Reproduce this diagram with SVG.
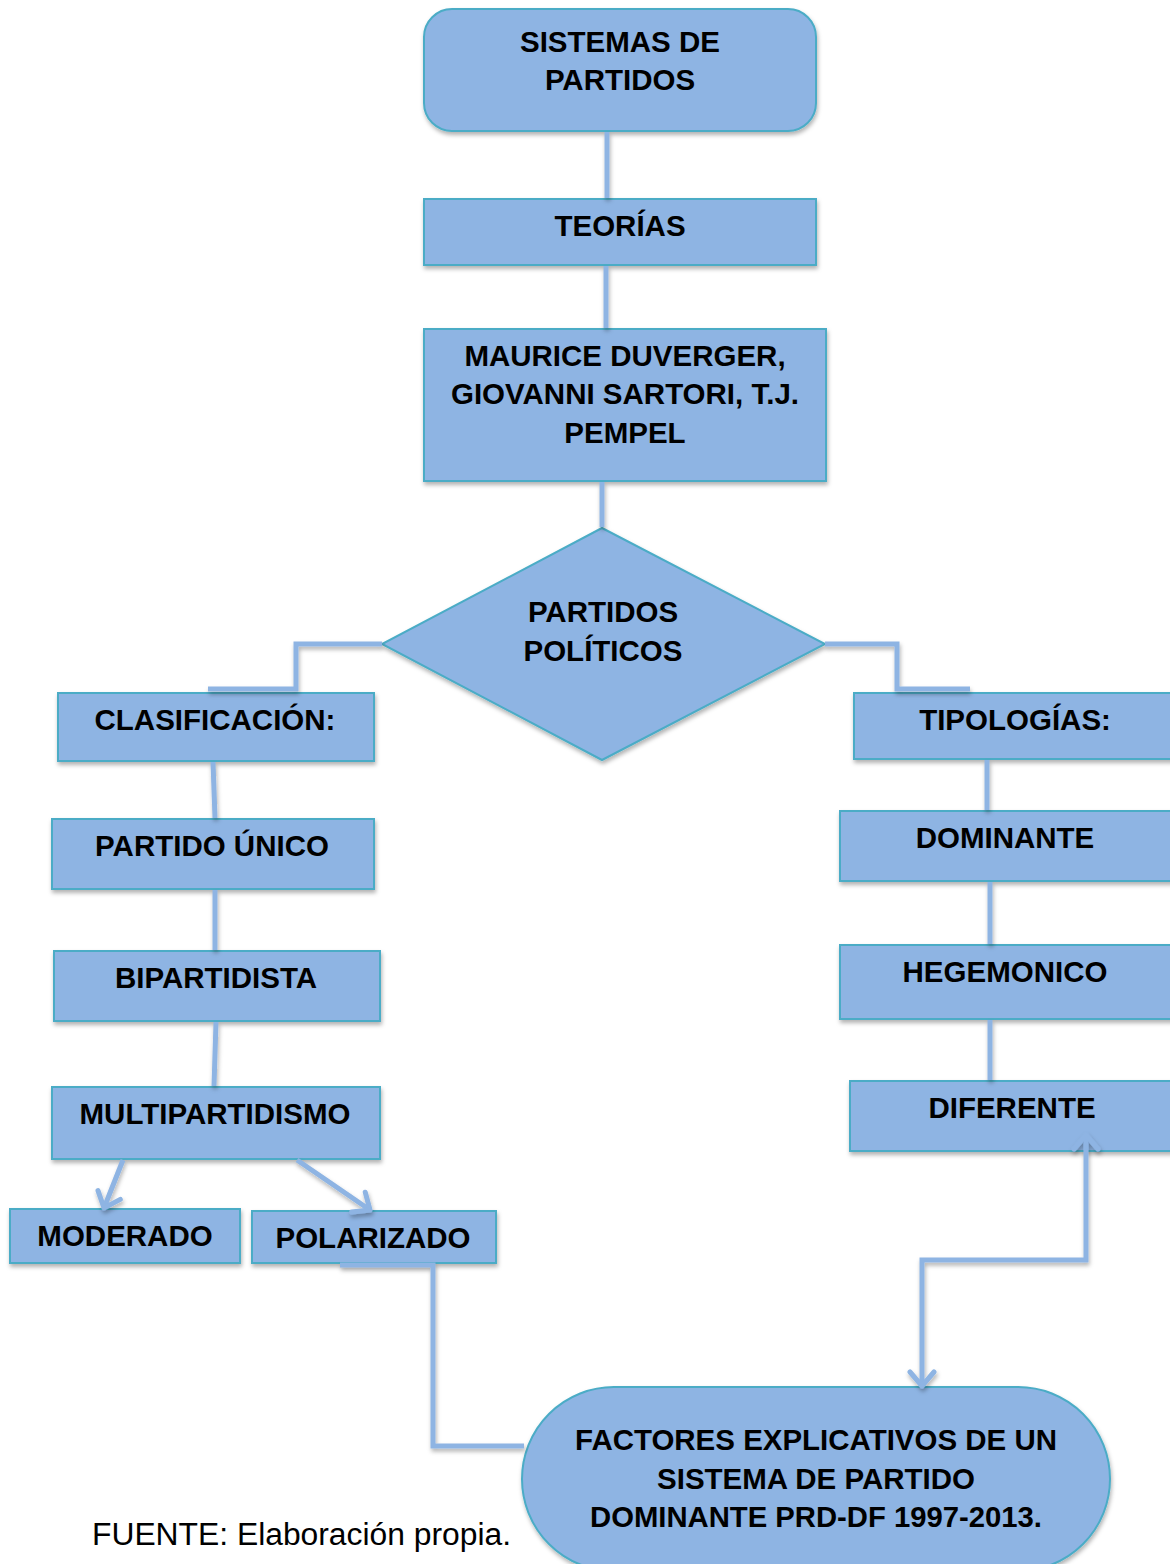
<svg xmlns="http://www.w3.org/2000/svg" width="1170" height="1564" viewBox="0 0 1170 1564">
<style>
.n{fill:#8EB4E3;stroke:#4BACC6;stroke-width:2;filter:url(#sh)}
.t{font-family:"Liberation Sans",Arial,sans-serif;font-weight:bold;font-size:29.5px;fill:#000;text-anchor:middle}
.c{fill:none;stroke:#8EB4E3;stroke-width:5;filter:url(#sh)}
.a{marker-end:url(#ah)}
</style>
<defs>
<filter id="sh" filterUnits="userSpaceOnUse" x="0" y="0" width="1170" height="1564">
<feDropShadow dx="1" dy="3" stdDeviation="2" flood-color="#000" flood-opacity="0.3"/>
</filter>
<marker id="ah" viewBox="-3 -15 20 30" refX="14" refY="0" markerWidth="20" markerHeight="30" orient="auto-start-reverse" markerUnits="userSpaceOnUse">
<polyline points="0,-12 14,0 0,12" fill="none" stroke="#8EB4E3" stroke-width="5" stroke-linecap="round" stroke-linejoin="round"/>
</marker>
</defs>
<rect width="1170" height="1564" fill="#fff"/>
<g id="n-sistemas"><rect class="n" x="424" y="9" width="392" height="122" rx="28"/><text class="t" x="620" y="52">SISTEMAS DE</text><text class="t" x="620" y="90">PARTIDOS</text></g>
<g id="n-teorias"><rect class="n" x="424" y="199" width="392" height="66"/><text class="t" x="620" y="236">TEORÍAS</text></g>
<g id="n-autores"><rect class="n" x="424" y="329" width="402" height="152"/><text class="t" x="625" y="366">MAURICE DUVERGER,</text><text class="t" x="625" y="404">GIOVANNI SARTORI, T.J.</text><text class="t" x="625" y="443">PEMPEL</text></g>
<g id="n-partidos"><polygon class="n" points="602,528 825,644 602,760 382,644"/><text class="t" x="603" y="622">PARTIDOS</text><text class="t" x="603" y="661">POLÍTICOS</text></g>
<g id="n-clasificacion"><rect class="n" x="58" y="693" width="316" height="68"/><text class="t" x="215" y="730">CLASIFICACIÓN:</text></g>
<g id="n-tipologias"><rect class="n" x="854" y="693" width="330" height="66"/><text class="t" x="1015" y="730">TIPOLOGÍAS:</text></g>
<g id="n-unico"><rect class="n" x="52" y="819" width="322" height="70"/><text class="t" x="212" y="856">PARTIDO ÚNICO</text></g>
<g id="n-bipartidista"><rect class="n" x="54" y="951" width="326" height="70"/><text class="t" x="216" y="988">BIPARTIDISTA</text></g>
<g id="n-multi"><rect class="n" x="52" y="1087" width="328" height="72"/><text class="t" x="215" y="1124">MULTIPARTIDISMO</text></g>
<g id="n-moderado"><rect class="n" x="10" y="1209" width="230" height="54"/><text class="t" x="125" y="1246">MODERADO</text></g>
<g id="n-polarizado"><rect class="n" x="252" y="1211" width="244" height="52"/><text class="t" x="373" y="1248">POLARIZADO</text></g>
<g id="n-dominante"><rect class="n" x="840" y="811" width="340" height="70"/><text class="t" x="1005" y="848">DOMINANTE</text></g>
<g id="n-hegemonico"><rect class="n" x="840" y="945" width="340" height="74"/><text class="t" x="1005" y="982">HEGEMONICO</text></g>
<g id="n-diferente"><rect class="n" x="850" y="1081" width="330" height="70"/><text class="t" x="1012" y="1118">DIFERENTE</text></g>
<g id="n-factores"><rect class="n" x="522" y="1387" width="588" height="184" rx="92"/><text class="t" x="816" y="1450" textLength="482" lengthAdjust="spacingAndGlyphs">FACTORES EXPLICATIVOS DE UN</text><text class="t" x="816" y="1489" textLength="318" lengthAdjust="spacingAndGlyphs">SISTEMA DE PARTIDO</text><text class="t" x="816" y="1527" textLength="452" lengthAdjust="spacingAndGlyphs">DOMINANTE PRD-DF 1997-2013.</text></g>
<g id="connectors">
<line class="c" x1="607" y1="132" x2="607" y2="198"/>
<line class="c" x1="606" y1="266" x2="606" y2="328"/>
<line class="c" x1="602" y1="482" x2="602" y2="527"/>
<polyline class="c" points="382,644 296,644 296,689 208,689"/>
<polyline class="c" points="825,644 897,644 897,689 970,689"/>
<line class="c" x1="213" y1="762" x2="215" y2="818"/>
<line class="c" x1="215" y1="890" x2="215" y2="950"/>
<line class="c" x1="216" y1="1022" x2="214" y2="1086"/>
<line class="c" x1="987" y1="760" x2="987" y2="810"/>
<line class="c" x1="990" y1="882" x2="990" y2="944"/>
<line class="c" x1="990" y1="1020" x2="990" y2="1080"/>
<line class="c a" x1="123" y1="1160" x2="104" y2="1208"/>
<line class="c a" x1="297" y1="1160" x2="370" y2="1210"/>
<polyline class="c" points="340,1265 433,1265 433,1446 524,1446"/>
<polyline class="c" points="922,1386 922,1260 1086,1260 1086,1135" marker-start="url(#ah)" marker-end="url(#ah)"/>
</g>
<text x="92" y="1545" font-family="Liberation Sans,Arial,sans-serif" font-size="31" textLength="419" lengthAdjust="spacingAndGlyphs" fill="#000">FUENTE: Elaboración propia.</text>
</svg>
